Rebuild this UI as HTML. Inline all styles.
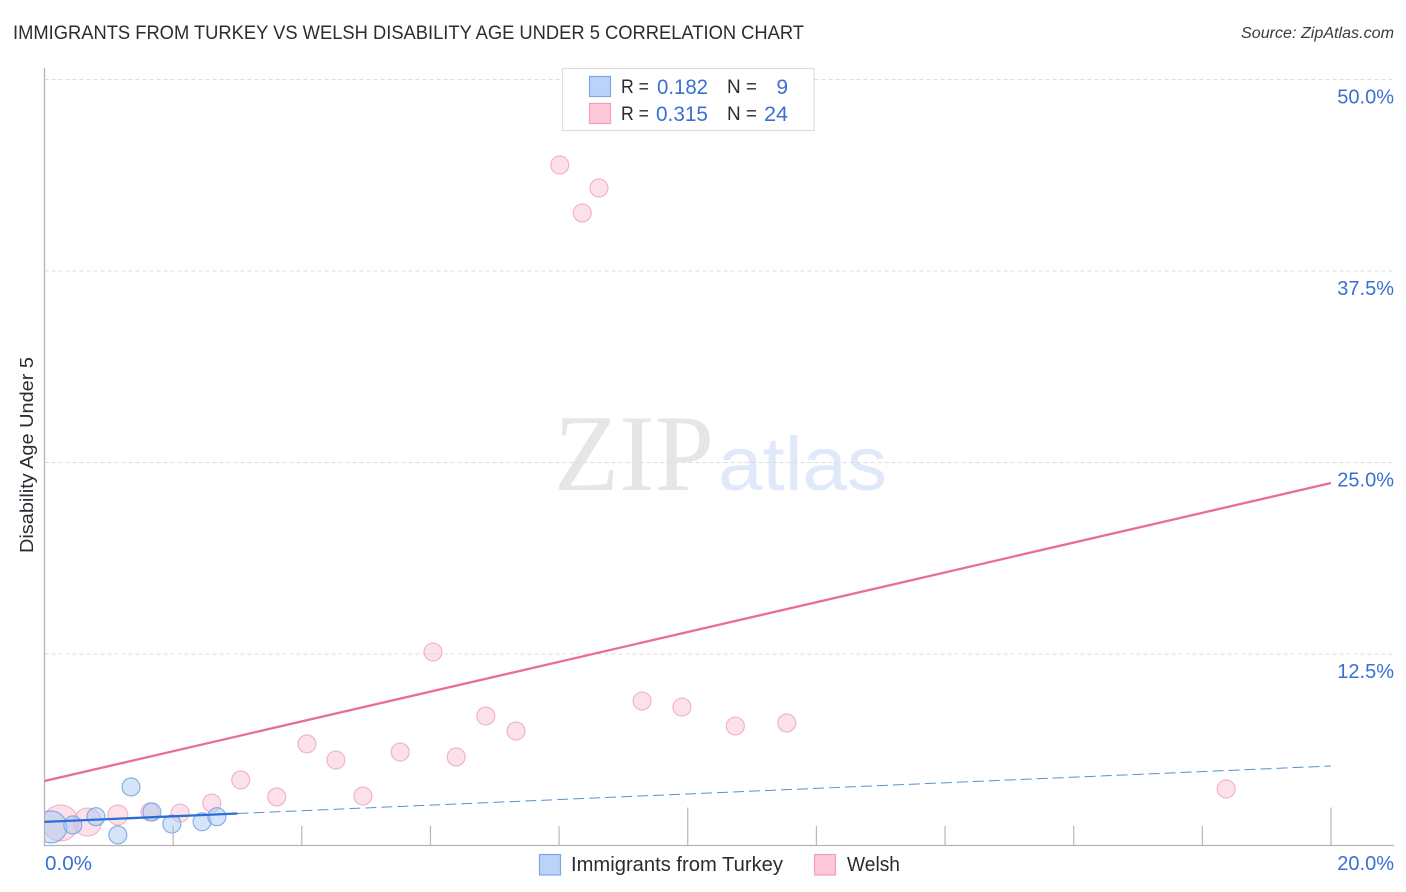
<!DOCTYPE html>
<html lang="en">
<head>
<meta charset="utf-8">
<title>Immigrants from Turkey vs Welsh Disability Age Under 5 Correlation Chart</title>
<style>
html,body{margin:0;padding:0;background:#fff;width:1406px;height:892px;overflow:hidden}
svg{display:block;font-family:"Liberation Sans",sans-serif}
</style>
</head>
<body>
<svg id="chart" xmlns="http://www.w3.org/2000/svg" width="1406" height="892" viewBox="0 0 1406 892">
  <defs>
    <clipPath id="plot-clip"><rect x="44.5" y="60" width="1350" height="785.5"/></clipPath>
  </defs>
  <text x="13" y="39" font-size="19" fill="#2b2b33" textLength="791" lengthAdjust="spacingAndGlyphs">IMMIGRANTS FROM TURKEY VS WELSH DISABILITY AGE UNDER 5 CORRELATION CHART</text>
  <text x="1241" y="38" font-size="15.5" font-style="italic" fill="#3a3a42" textLength="153" lengthAdjust="spacingAndGlyphs">Source: ZipAtlas.com</text>

  <g>
    <text x="554" y="490" font-family="'Liberation Serif',serif" font-size="109" fill="#e6e6e6" textLength="160" lengthAdjust="spacingAndGlyphs">ZIP</text>
    <text x="718" y="490" font-size="76" fill="#dfe9f9" textLength="169" lengthAdjust="spacingAndGlyphs">atlas</text>
  </g>

  <g id="grid"></g>
  <g id="points" clip-path="url(#plot-clip)"></g>
  <rect x="28" y="800" width="16.5" height="46" fill="#fff"/>
  <g id="axes"></g>
  <g id="trends"></g>
  <g id="labels"></g>

  <text transform="translate(33,553) rotate(-90)" font-size="18.5" fill="#2b2b33" textLength="196" lengthAdjust="spacingAndGlyphs">Disability Age Under 5</text>

  <g>
    <rect x="562.5" y="68.5" width="251.5" height="62" fill="#fff" stroke="#dedede" stroke-width="1.2"/>
    <rect x="589.5" y="76.5" width="21" height="20" fill="#b9d4f8" stroke="#7ea8e4" stroke-width="1.2"/>
    <rect x="589.5" y="103.5" width="21" height="20" fill="#fcc8da" stroke="#f0a0bc" stroke-width="1.2"/>
    <text x="621" y="93" font-size="19" fill="#2b2b33" textLength="28" lengthAdjust="spacingAndGlyphs">R =</text>
    <text x="657" y="94" font-size="21" fill="#3a70d0" textLength="51" lengthAdjust="spacingAndGlyphs">0.182</text>
    <text x="727" y="93" font-size="19" fill="#2b2b33" textLength="30" lengthAdjust="spacingAndGlyphs">N =</text>
    <text x="788" y="94" font-size="21" fill="#3a70d0" text-anchor="end">9</text>
    <text x="621" y="120" font-size="19" fill="#2b2b33" textLength="28" lengthAdjust="spacingAndGlyphs">R =</text>
    <text x="656" y="121" font-size="21" fill="#3a70d0" textLength="52" lengthAdjust="spacingAndGlyphs">0.315</text>
    <text x="727" y="120" font-size="19" fill="#2b2b33" textLength="30" lengthAdjust="spacingAndGlyphs">N =</text>
    <text x="764" y="121" font-size="21" fill="#3a70d0" textLength="24" lengthAdjust="spacingAndGlyphs">24</text>
  </g>

  <g>
    <rect x="539.5" y="854.5" width="21" height="20.5" fill="#b9d4f8" stroke="#7ea8e4" stroke-width="1.2"/>
    <text x="571" y="871" font-size="20" fill="#2b2b33" textLength="212" lengthAdjust="spacingAndGlyphs">Immigrants from Turkey</text>
    <rect x="814.5" y="854.5" width="21" height="20.5" fill="#fcc8da" stroke="#f0a0bc" stroke-width="1.2"/>
    <text x="847" y="871" font-size="20" fill="#2b2b33" textLength="53" lengthAdjust="spacingAndGlyphs">Welsh</text>
  </g>
</svg>
<script>
const xTicks = [0, 2, 4, 6, 8, 10, 12, 14, 16, 18, 20];
const xMajorTicks = [10, 20];
const xTickLabels = ["0.0%", "20.0%"];
const yTicks = [12.5, 25, 37.5, 50];
const yTickLabels = ["12.5%", "25.0%", "37.5%", "50.0%"];

const turkeyX = [0.10, 0.44, 0.80, 1.345, 1.14, 1.67, 1.98, 2.45, 2.68];
const turkeyY = [1.21, 1.34, 1.88, 3.82, 0.69, 2.19, 1.40, 1.55, 1.88];
const turkeySize = [16, 9, 9, 9, 9, 9, 9, 9, 9];

const welshX = [0.25, 0.67, 1.14, 1.64, 2.11, 2.60, 3.05, 3.61, 4.08, 4.53, 4.95, 5.53, 6.40, 6.04, 6.86, 7.33, 8.01, 8.62, 8.36, 9.29, 9.91, 10.74, 11.54, 18.37];
const welshY = [1.47, 1.53, 1.99, 2.19, 2.12, 2.77, 4.28, 3.17, 6.63, 5.58, 3.23, 6.10, 5.78, 12.63, 8.45, 7.47, 44.42, 42.92, 41.29, 9.43, 9.04, 7.80, 8.00, 3.69];
const welshSize = [18, 14, 10, 9, 9, 9, 9, 9, 9, 9, 9, 9, 9, 9, 9, 9, 9, 9, 9, 9, 9, 9, 9, 9];

const trendWelshEnds = [4.21, 23.66];
const trendTurkeyEnds = [1.54, 5.19];
const trendTurkeySolidEndX = 3.0;
const trendXRange = [0, 20];

const SVGNS = 'http://www.w3.org/2000/svg';
const X0 = 44.5, X1 = 1331, Y0 = 845.5, Y1 = 79.5;
const xScale = v => X0 + (v - 0) / 20 * (X1 - X0);
const yScale = v => Y0 - (v - 0) / 50 * (Y0 - Y1);

function make(parent, tag, attrs) {
  const el = document.createElementNS(SVGNS, tag);
  for (const k in attrs) el.setAttribute(k, attrs[k]);
  document.getElementById(parent).appendChild(el);
  return el;
}

yTicks.forEach((t, i) => {
  const line = make('grid', 'line', {x1: 44.5, x2: 1394, y1: yScale(t), y2: yScale(t), stroke: '#dedede', 'stroke-width': 1, 'stroke-dasharray': '4 3'});
  
  
  const label = make('labels', 'text', {x: 1394, y: yScale(t) + 24, 'font-size': 20, fill: '#3a70d0', 'text-anchor': 'end'});
  label.textContent = yTickLabels[i];
  
  
});

const yAxis = make('axes', 'line', {x1: 44.5, x2: 44.5, y1: 68, y2: 846, stroke: '#b4b4b4', 'stroke-width': 1.3});


const xAxis = make('axes', 'line', {x1: 44, x2: 1394, y1: 845.5, y2: 845.5, stroke: '#b4b4b4', 'stroke-width': 1.3});



xTicks.slice(1).forEach(t => {
  const top = xMajorTicks.includes(t) ? 807.5 : 826;
  const tick = make('axes', 'line', {x1: xScale(t), x2: xScale(t), y1: top, y2: 845.5, stroke: '#b8b8b8', 'stroke-width': 1.2});
  
  
});

const xLabelLeft = make('labels', 'text', {x: 45, y: 870, 'font-size': 20, fill: '#3a70d0', textLength: 47, lengthAdjust: 'spacingAndGlyphs'});
xLabelLeft.textContent = xTickLabels[0];


const xLabelRight = make('labels', 'text', {x: 1394, y: 870, 'font-size': 20, fill: '#3a70d0', 'text-anchor': 'end'});
xLabelRight.textContent = xTickLabels[1];



welshX.forEach((x, i) => {
  const c = make('points', 'circle', {cx: xScale(x), cy: yScale(welshY[i]), r: welshSize[i], fill: '#f9b8cf', 'fill-opacity': 0.42, stroke: '#ee9fbb', 'stroke-opacity': 0.8, 'stroke-width': 1.1});
  
  
});
turkeyX.forEach((x, i) => {
  const c = make('points', 'circle', {cx: xScale(x), cy: yScale(turkeyY[i]), r: turkeySize[i], fill: '#a9c9f4', 'fill-opacity': 0.5, stroke: '#6d9de0', 'stroke-opacity': 0.85, 'stroke-width': 1.1});
  
  
});

const turkeyAt = x => trendTurkeyEnds[0] + (trendTurkeyEnds[1] - trendTurkeyEnds[0]) * (x - trendXRange[0]) / (trendXRange[1] - trendXRange[0]);

const welshLine = make('trends', 'line', {x1: xScale(trendXRange[0]), y1: yScale(trendWelshEnds[0]), x2: xScale(trendXRange[1]), y2: yScale(trendWelshEnds[1]), stroke: '#e96c9a', 'stroke-width': 2.3});



const turkeyDash = make('trends', 'line', {x1: xScale(trendTurkeySolidEndX), y1: yScale(turkeyAt(trendTurkeySolidEndX)), x2: xScale(trendXRange[1]), y2: yScale(trendTurkeyEnds[1]), stroke: '#5b8ed6', 'stroke-width': 1, 'stroke-dasharray': '11 5'});



const turkeySolid = make('trends', 'line', {x1: xScale(trendXRange[0]), y1: yScale(trendTurkeyEnds[0]), x2: xScale(trendTurkeySolidEndX), y2: yScale(turkeyAt(trendTurkeySolidEndX)), stroke: '#2a6fd8', 'stroke-width': 2.3});


</script>
</body>
</html>
